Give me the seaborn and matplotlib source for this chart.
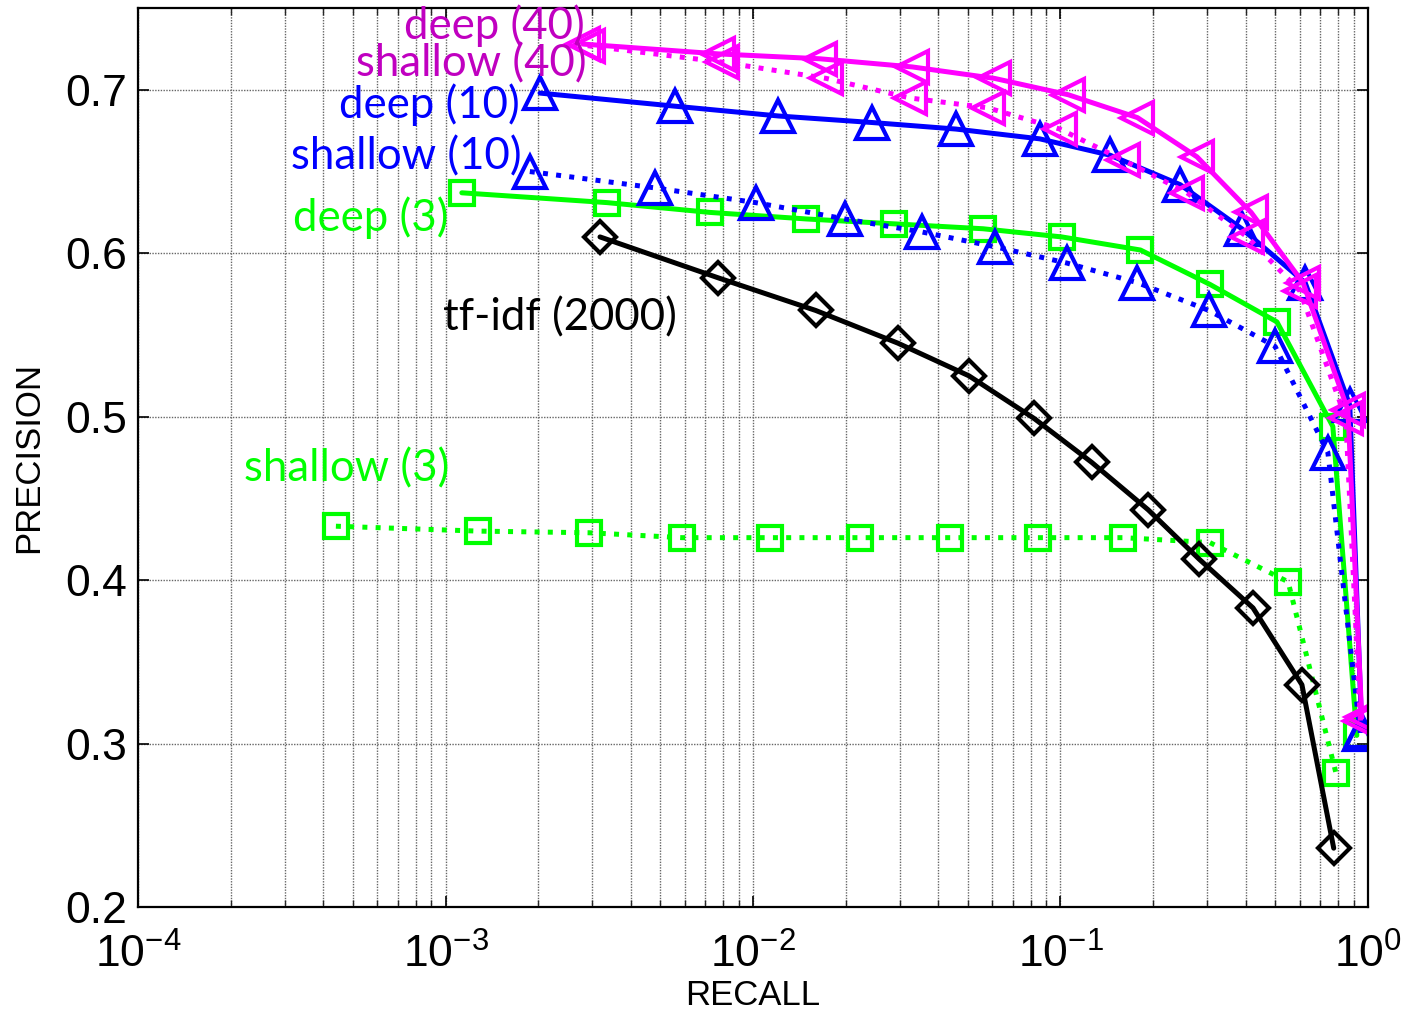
import numpy as np
import pandas as pd
import matplotlib
matplotlib.use("Agg")
import matplotlib.pyplot as plt
import seaborn as sns

# recall / precision
deep40_r = [0.0028, 0.0077, 0.0165, 0.033, 0.061, 0.106, 0.178, 0.278, 0.417, 0.615, 0.861, 0.955]
deep40_p = [0.728, 0.722, 0.719, 0.714, 0.707, 0.697, 0.683, 0.659, 0.625, 0.582, 0.504, 0.316]

shallow40_r = [0.0029, 0.0079, 0.0173, 0.0324, 0.058, 0.0995, 0.160, 0.258, 0.405, 0.601, 0.847, 0.945]
shallow40_p = [0.727, 0.717, 0.707, 0.695, 0.689, 0.676, 0.657, 0.637, 0.610, 0.577, 0.499, 0.314]

deep10_r = [0.00203, 0.00557, 0.0121, 0.0244, 0.0457, 0.0857, 0.145, 0.245, 0.389, 0.625, 0.873, 0.955]
deep10_p = [0.698, 0.690, 0.684, 0.680, 0.676, 0.670, 0.660, 0.642, 0.615, 0.582, 0.507, 0.308]

shallow10_r = [0.00188, 0.0048, 0.0102, 0.0199, 0.0355, 0.0612, 0.105, 0.178, 0.304, 0.499, 0.741, 0.945]
shallow10_p = [0.650, 0.640, 0.631, 0.621, 0.613, 0.604, 0.594, 0.582, 0.565, 0.543, 0.478, 0.306]

deep3_r = [0.00113, 0.00335, 0.00724, 0.0149, 0.0288, 0.056, 0.101, 0.182, 0.306, 0.506, 0.769, 0.92]
deep3_p = [0.637, 0.631, 0.625, 0.621, 0.618, 0.615, 0.610, 0.602, 0.581, 0.558, 0.494, 0.305]

shallow3_r = [0.00044, 0.00128, 0.00293, 0.00587, 0.01135, 0.0223, 0.0438, 0.0845, 0.160, 0.306, 0.550, 0.787]
shallow3_p = [0.433, 0.430, 0.429, 0.426, 0.426, 0.426, 0.426, 0.426, 0.426, 0.423, 0.399, 0.282]

tfidf_r = [0.00318, 0.0077, 0.016, 0.0296, 0.0504, 0.082, 0.1265, 0.193, 0.282, 0.423, 0.610, 0.774]
tfidf_p = [0.610, 0.585, 0.565, 0.545, 0.525, 0.499, 0.472, 0.443, 0.413, 0.383, 0.336, 0.236]

sns.set_style("ticks")
plt.rcParams['font.family'] = ['Liberation Sans', 'DejaVu Sans']
plt.rcParams['mathtext.default'] = 'regular'

fig = plt.figure(figsize=(14.03, 10.14), dpi=100)
ax = fig.add_axes([0.0984, 0.1055, 0.8766, 0.8865])

MAG = '#FF00FF'
BLU = '#0000FF'
GRN = '#00FF00'

series = [
    # r, p, colour, linestyle, marker, size
    (shallow3_r, shallow3_p, GRN, ':', 's', 17),
    (tfidf_r, tfidf_p, 'black', '-', 'D', 16),
    (deep3_r, deep3_p, GRN, '-', 's', 17),
    (shallow10_r, shallow10_p, BLU, ':', '^', 23),
    (deep10_r, deep10_p, BLU, '-', '^', 23),
    (shallow40_r, shallow40_p, MAG, ':', '<', 23),
    (deep40_r, deep40_p, MAG, '-', '<', 23),
]

for r, p, c, ls, mk, ms in series:
    df = pd.DataFrame({'recall': r, 'precision': p})
    sns.lineplot(data=df, x='recall', y='precision', ax=ax, color=c,
                 linestyle=ls, linewidth=3.6, marker=mk, markersize=ms,
                 markerfacecolor='none', markeredgecolor=c,
                 markeredgewidth=3.0, sort=False, estimator=None)

ax.set_xscale('log')
ax.set_xlim(1e-4, 1)
ax.set_ylim(0.2, 0.75)
ax.set_xticks([1e-4, 1e-3, 1e-2, 1e-1, 1])
ax.set_xticklabels(['$10^{-4}$', '$10^{-3}$', '$10^{-2}$', '$10^{-1}$', '$10^{0}$'])
ax.set_yticks([0.2, 0.3, 0.4, 0.5, 0.6, 0.7])
ax.set_yticklabels(['0.2', '0.3', '0.4', '0.5', '0.6', '0.7'])
ax.xaxis.set_minor_locator(matplotlib.ticker.LogLocator(base=10, subs=np.arange(2, 10)))
ax.xaxis.set_minor_formatter(matplotlib.ticker.NullFormatter())

ax.tick_params(axis='both', which='major', direction='in', length=8, width=1.2,
               top=True, right=True, labelsize=32, colors='black')
ax.tick_params(axis='y', which='major', pad=8)
ax.tick_params(axis='x', which='major', pad=19)
ax.tick_params(axis='x', which='minor', direction='in', length=5, width=1.0,
               top=True, bottom=True)
ax.grid(True, which='major', axis='both', color='#666666', linestyle=(0, (1, 1)), linewidth=1.0)
ax.grid(True, which='minor', axis='x', color='#666666', linestyle=(0, (1, 1)), linewidth=1.0)
for s in ax.spines.values():
    s.set_linewidth(1.6)
    s.set_color('black')

ax.set_xlabel('RECALL', fontsize=25, labelpad=2, color='black')
ax.set_ylabel('PRECISION', fontsize=25, labelpad=14, color='black')

lab_font = ['Lato', 'DejaVu Sans']
ax.text(0.00283, 0.7394, 'deep (40)', color='#C000C0', fontsize=31.5, family=lab_font, ha='right', va='center')
ax.text(0.00287, 0.7160, 'shallow (40)', color='#C000C0', fontsize=31.5, family=lab_font, ha='right', va='center')
ax.text(0.00175, 0.6910, 'deep (10)', color=BLU, fontsize=31.5, family=lab_font, ha='right', va='center')
ax.text(0.00177, 0.659, 'shallow (10)', color=BLU, fontsize=31.5, family=lab_font, ha='right', va='center')
ax.text(0.00102, 0.622, 'deep (3)', color=GRN, fontsize=31.5, family=lab_font, ha='right', va='center')
ax.text(0.00098, 0.5605, 'tf-idf (2000)', color='black', fontsize=31.5, family=lab_font, ha='left', va='center')
ax.text(0.00103, 0.468, 'shallow (3)', color=GRN, fontsize=31.5, family=lab_font, ha='right', va='center')

fig.savefig('out.png', dpi=100)
